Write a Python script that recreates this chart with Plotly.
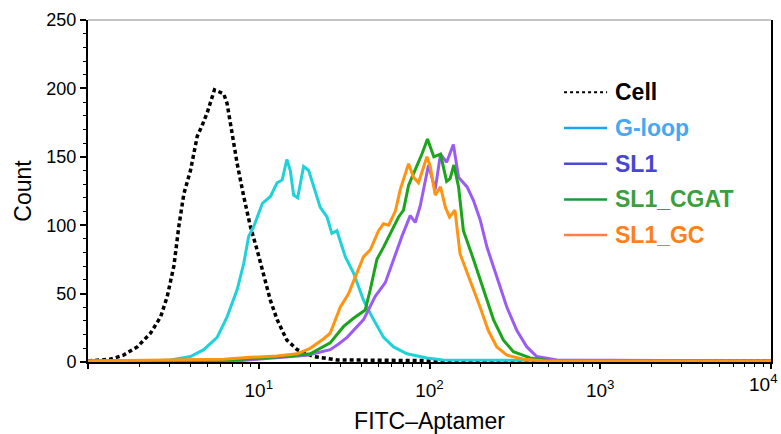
import plotly.graph_objects as go

# ---------------- data ----------------
cell_x = [1.0, 1.35, 1.61, 1.94, 2.32, 2.66, 2.91, 3.18, 3.40, 3.64, 3.98, 4.36, 4.66, 4.98,
          5.50, 6.23, 6.52, 6.98, 7.47, 8.16, 8.93, 9.77, 10.7, 11.7, 12.8, 14.6, 16.8,
          20.9, 28.7, 101, 10000]
cell_y = [0.8, 2, 5, 11, 21, 33, 48, 70, 99, 123, 140, 165, 173, 182,
          199, 196, 189, 165, 145, 121, 99, 82, 62, 45, 31, 16, 9,
          4, 1.5, 1, 0.8]

gloop_x = [1.0, 2.32, 3.04, 3.98, 4.76, 5.70, 6.52, 7.47, 8.16, 8.73, 9.34, 9.77, 10.5, 11.7,
           12.8, 13.7, 14.6, 15.3, 16.0, 16.9, 18.3, 19.6, 21.0, 22.9, 25.1, 26.8, 28.7,
           32.1, 35.9, 41.1, 47.0, 53.8, 61.6, 73.8, 96.6, 120, 10000]
gloop_y = [0.8, 0.8, 1.5, 4, 9, 18, 33, 53, 72, 92, 99, 105, 116, 121,
           131, 133, 148, 140, 122, 120, 143, 140, 128, 113, 106, 94, 96,
           77, 65, 45, 31, 18, 11, 6, 3, 1.5, 0.8]

sl1_x = [1.0, 7.80, 19.2, 23.9, 26.2, 29.2, 32.9, 41.1, 48.1, 55.1, 61.6, 69.0, 77.1, 82.5,
         88.2, 98.7, 108, 116, 126, 138, 148, 166, 181, 198, 217, 248, 284, 325, 372,
         425, 557, 10000]
sl1_y = [0.8, 1, 5, 7.5, 9, 13, 18, 31, 48, 58, 75, 92, 107, 102,
         114, 144, 126, 152, 146, 159, 135, 128, 118, 104, 84, 62, 40, 23, 11,
         4, 1.5, 0.8]

cgat_x = [1.0, 6.82, 15.3, 20.0, 26.2, 31.4, 35.9, 42.0, 45.0, 49.2, 53.8, 60.3, 65.9, 70.4,
          75.4, 78.9, 90.3, 97.3, 106, 116, 126, 132, 139, 148, 158, 181, 207, 237, 271,
          310, 388, 509, 10000]
cgat_y = [0.8, 1.5, 4.4, 6, 14, 26, 32, 38, 53, 75, 84, 96, 106, 111,
          129, 135, 152, 163, 150, 152, 132, 134, 144, 128, 96, 75, 53, 31, 16,
          7.5, 3, 1, 0.8]

gc_x = [1.0, 6.23, 8.93, 12.8, 16.8, 20.0, 24.0, 26.2, 30.0, 33.6, 36.7, 41.1, 45.0, 50.3,
        53.8, 57.6, 63.0, 67.4, 75.4, 80.6, 86.2, 96.6, 101, 108, 116, 124, 131, 141,
        151, 173, 198, 221, 248, 284, 355, 465, 10000]
gc_y = [0.8, 2, 3.4, 4.4, 6, 10, 17, 21, 40, 50, 62, 77, 82, 96,
        101, 100, 110, 126, 145, 135, 131, 150, 143, 122, 128, 113, 106, 111,
        79, 60, 40, 23, 11, 5, 2, 1, 0.8]

series_names = ["Cell", "G-loop", "SL1", "SL1_CGAT", "SL1_GC"]
series_x = [cell_x, gloop_x, sl1_x, cgat_x, gc_x]
series_y = [cell_y, gloop_y, sl1_y, cgat_y, gc_y]
plot_colors = ["#000000", "#1ed2d8", "#9b5cf6", "#1aa51a", "#ff9410"]

legend_line_colors = ["#000000", "#1aa3f0", "#4a4ad6", "#1a9a3c", "#ff7f45"]
legend_text_colors = ["#000000", "#45a8f2", "#4646d2", "#3a9f3c", "#ff7f1a"]

x_tickvals = [1, 10, 100, 1000, 10000]
x_ticktext = ["", "10<sup>1</sup>", "10<sup>2</sup>", "10<sup>3</sup>", ""]
last_tick_label = "10<sup>4</sup>"   # drawn separately so it stays inside the page
x_minor = [k * 10 ** d for d in range(4) for k in range(2, 10)]

FONT = "Liberation Sans, Arial, sans-serif"

fig = go.Figure()
for i, name in enumerate(series_names):
    dash = "4px,3px" if name == "Cell" else "solid"
    width = 3.5 if name == "Cell" else 3
    fig.add_trace(go.Scatter(x=series_x[i], y=series_y[i], mode="lines", name=name,
                             line=dict(color=plot_colors[i], width=width, dash=dash),
                             showlegend=False))

# manual legend (line sample + coloured bold label)
leg_x0, leg_x1, leg_tx = 0.697, 0.760, 0.769
leg_y0, leg_dy = 0.789, 0.1045
for i, name in enumerate(series_names):
    yy = leg_y0 - i * leg_dy
    fig.add_shape(type="line", xref="paper", yref="paper", x0=leg_x0, x1=leg_x1, y0=yy, y1=yy,
                  line=dict(color=legend_line_colors[i], width=2.5 if i else 2,
                            dash="dot" if name == "Cell" else "solid"))
    fig.add_annotation(xref="paper", yref="paper", x=leg_tx, y=yy, xanchor="left", yanchor="middle",
                       text="<b>%s</b>" % name, showarrow=False,
                       font=dict(family=FONT, size=23, color=legend_text_colors[i]))

# 10^4 tick label, right-aligned at the page edge like the reference
fig.add_annotation(xref="paper", yref="paper", x=1.0135, y=-0.062, xanchor="right", yanchor="middle",
                   text=last_tick_label, showarrow=False,
                   font=dict(family=FONT, size=19, color="black"))

# top border (thin grey)
fig.add_shape(type="line", xref="paper", yref="paper", x0=0, x1=1, y0=1, y1=1,
              line=dict(color="#8a8a8a", width=1))

fig.update_layout(
    width=781, height=434,
    margin=dict(l=88, r=10, t=20, b=72),
    paper_bgcolor="white", plot_bgcolor="white",
    font=dict(family=FONT, color="black"),
    showlegend=False,
    xaxis=dict(type="log", range=[-0.0005, 4.0005], showgrid=False, zeroline=False, automargin=False,
               showline=True, linecolor="black", linewidth=2, ticklabelstandoff=5,
               tickvals=x_tickvals, ticktext=x_ticktext, ticks="outside", ticklen=5,
               tickwidth=1.5, tickcolor="black", tickfont=dict(size=19, family=FONT),
               minor=dict(tickvals=x_minor, ticks="outside", ticklen=3, tickwidth=1, tickcolor="black"),
               title=dict(text="FITC–Aptamer", font=dict(size=23, family=FONT), standoff=14)),
    yaxis=dict(range=[0, 250], showgrid=False, zeroline=False, automargin=False,
               showline=True, linecolor="black", linewidth=2, mirror=True,
               tickvals=[0, 50, 100, 150, 200, 250], ticks="outside", ticklen=6,
               tickwidth=1.5, tickcolor="black", tickfont=dict(size=18, family=FONT),
               minor=dict(dtick=10, ticks="outside", ticklen=3, tickwidth=1, tickcolor="black"),
               title=dict(text="Count", font=dict(size=23, family=FONT), standoff=8)),
)

fig.write_html("out.html", config={"displayModeBar": False},
               post_script="document.body.style.margin='0px';document.body.style.padding='0px';")
